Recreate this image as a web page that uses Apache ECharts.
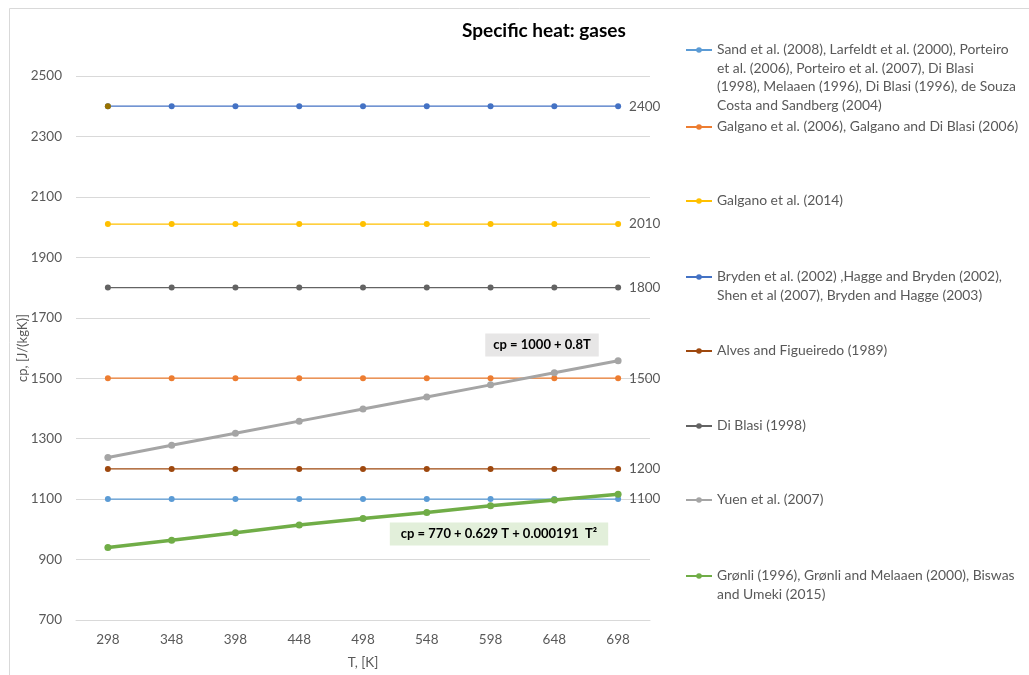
<!DOCTYPE html>
<html>
<head>
<meta charset="utf-8">
<script src="https://cdn.jsdelivr.net/npm/echarts@6/dist/echarts.min.js"></script>
<style>html,body{margin:0;padding:0;background:#fff}#c{width:1029px;height:675px}</style>
</head>
<body>
<div id="c"></div>
<script>
var categories = ['298','348','398','448','498','548','598','648','698'];
var yTicks = [700, 900, 1100, 1300, 1500, 1700, 1900, 2100, 2300, 2500];

var sandValues     = [1100,1100,1100,1100,1100,1100,1100,1100,1100];
var galgano06Vals  = [1500,1500,1500,1500,1500,1500,1500,1500,1500];
var galgano14Vals  = [2010,2010,2010,2010,2010,2010,2010,2010,2010];
var brydenValues   = [2400,2400,2400,2400,2400,2400,2400,2400,2400];
var alvesValues    = [1200,1200,1200,1200,1200,1200,1200,1200,1200];
var diBlasiValues  = [1800,1800,1800,1800,1800,1800,1800,1800,1800];
var yuenValues     = [1238,1278,1318,1358,1398,1438,1478,1518,1558];
var gronliValues   = [940,964,989,1014,1036,1056,1078,1097,1116];
var extraPoint     = [2400,'-','-','-','-','-','-','-','-'];

var legendLines = [
  ['Sand et al. (2008), Larfeldt et al. (2000), Porteiro','et al. (2006), Porteiro et al. (2007), Di Blasi','(1998), Melaaen (1996), Di Blasi (1996), de Souza','Costa and Sandberg (2004)'],
  ['Galgano et al. (2006), Galgano and Di Blasi (2006)'],
  ['Galgano et al. (2014)'],
  ['Bryden et al. (2002) ,Hagge and Bryden (2002),','Shen et al (2007), Bryden and Hagge (2003)'],
  ['Alves and Figueiredo (1989)'],
  ['Di Blasi (1998)'],
  ['Yuen et al. (2007)'],
  ['Grønli (1996), Grønli and Melaaen (2000), Biswas','and Umeki (2015)']
];
var legendIconY = [50, 127, 201, 277, 351, 426, 500, 576];

var FONT = 'Lato';
var TXT = '#595959';
var LH = 18.5;

var names = legendLines.map(function(l){ return l.join(' '); });
var colors = ['#5B9BD5','#ED7D31','#FFC000','#4472C4','#9E480E','#636363','#A5A5A5','#70AD47'];
var valueSets = [sandValues, galgano06Vals, galgano14Vals, brydenValues, alvesValues, diBlasiValues, yuenValues, gronliValues];
var labelled = [true, true, true, true, true, true, false, false];

var series = valueSets.map(function(vals, i){
  var thick = (i >= 6);
  return {
    name: names[i],
    type: 'line',
    data: vals,
    symbol: 'circle',
    symbolSize: thick ? 7 : 6,
    itemStyle: { color: colors[i] },
    lineStyle: { color: colors[i], width: thick ? (i === 7 ? 3.5 : 3) : 1.3 },
    label: {
      show: labelled[i],
      position: 'right',
      distance: 8,
      color: TXT,
      fontFamily: FONT,
      fontSize: 13.5,
      formatter: function(p){ return p.dataIndex === categories.length - 1 ? String(p.value) : ''; }
    },
    emphasis: { disabled: true },
    z: 2 + i
  };
});
series.push({
  name: 'extra',
  type: 'line',
  data: extraPoint,
  symbol: 'circle',
  symbolSize: 6,
  itemStyle: { color: '#997300' },
  lineStyle: { width: 0 },
  z: 20
});

var legends = legendLines.map(function(lines, i){
  var n = lines.length;
  var text = new Array(n).join('\n') + lines.join('\n');
  return {
    data: [names[i]],
    orient: 'vertical',
    left: 685,
    top: legendIconY[i] - (2 * n - 1) * LH / 2,
    itemWidth: 26,
    itemHeight: 7,
    itemGap: 0,
    padding: 0,
    selectedMode: false,
    formatter: function(){ return text; },
    textStyle: { color: TXT, fontFamily: FONT, fontSize: 13.9, lineHeight: LH }
  };
});

var chart = echarts.init(document.getElementById('c'));
chart.setOption({
  backgroundColor: '#fff',
  animation: false,
  title: {
    text: 'Specific heat: gases',
    left: 457, top: 16,
    textStyle: { fontFamily: FONT, fontWeight: 'bold', fontSize: 19, color: '#000' }
  },
  legend: legends,
  grid: { left: 76, right: 379, top: 76, bottom: 53, containLabel: false },
  xAxis: {
    type: 'category',
    data: categories,
    boundaryGap: true,
    name: 'T, [K]',
    nameLocation: 'middle',
    nameGap: 36,
    nameMoveOverlap: false,
    nameTextStyle: { color: TXT, fontFamily: FONT, fontSize: 13.5 },
    axisLine: { lineStyle: { color: '#D9D9D9' } },
    axisTick: { show: false },
    axisLabel: { color: TXT, fontFamily: FONT, fontSize: 13.5, margin: 13 }
  },
  yAxis: {
    type: 'value',
    min: yTicks[0],
    max: yTicks[yTicks.length - 1],
    interval: yTicks[1] - yTicks[0],
    name: 'cp, [J/(kgK)]',
    nameLocation: 'middle',
    nameGap: 47,
    nameMoveOverlap: false,
    nameTextStyle: { color: TXT, fontFamily: FONT, fontSize: 13 },
    axisLine: { show: false },
    axisTick: { show: false },
    splitLine: { lineStyle: { color: '#D9D9D9', width: 1 } },
    axisLabel: { color: TXT, fontFamily: FONT, fontSize: 13.5, margin: 14, formatter: function(v){ return String(v); } }
  },
  graphic: [
    { type: 'rect', left: 7, top: 6, shape: { width: 1040, height: 700 }, style: { fill: 'none', stroke: '#D9D9D9', lineWidth: 1 }, silent: true },
    { type: 'text', x: 542, y: 345, style: { text: 'cp = 1000 + 0.8T', font: 'bold 13px Lato', fill: '#000', align: 'center', verticalAlign: 'middle', backgroundColor: '#E7E6E6', padding: [5, 8, 5, 8] }, z: 100 },
    { type: 'text', x: 499, y: 534, style: { text: 'cp = 770 + 0.629 T + 0.000191  T²', font: 'bold 13px Lato', fill: '#000', align: 'center', verticalAlign: 'middle', backgroundColor: '#E2EFDA', padding: [5, 11, 5, 11] }, z: 100 }
  ],
  series: series
});
</script>
</body>
</html>
